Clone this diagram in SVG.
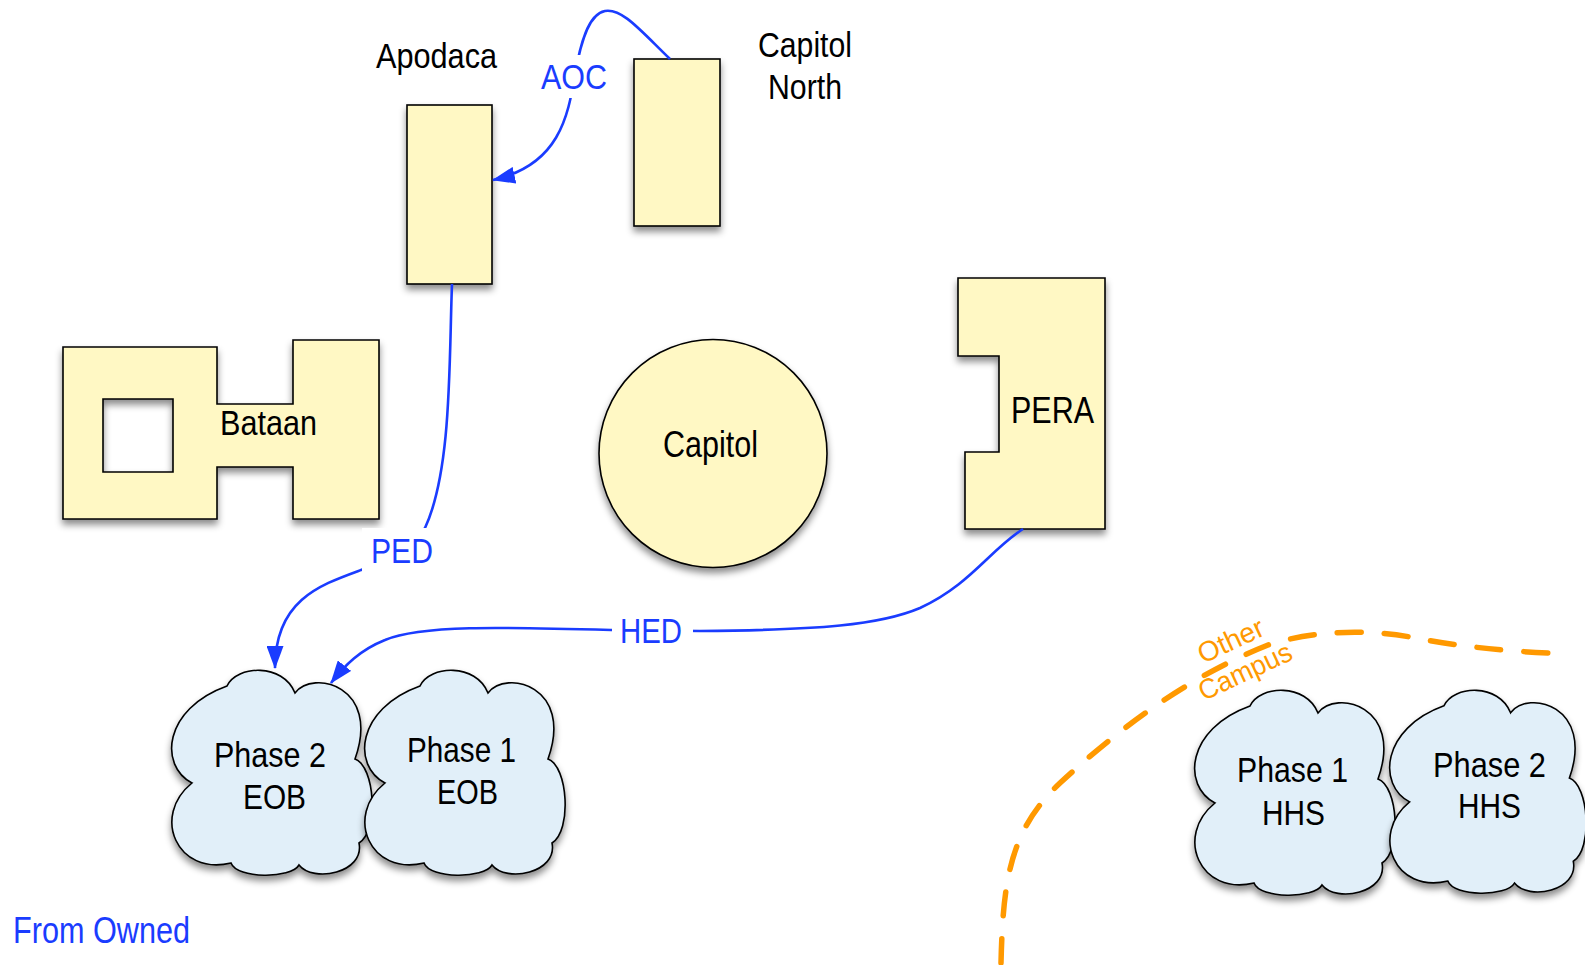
<svg xmlns="http://www.w3.org/2000/svg" xmlns:xlink="http://www.w3.org/1999/xlink" width="1585" height="965" viewBox="0 0 1585 965">
<style>
.bld{fill:#fff8c4;stroke:#000;stroke-width:1.6;filter:url(#sh)}
.cloud{fill:#e1eff9;stroke:#000;stroke-width:1.6;filter:url(#sh)}
.lbl{font-family:"Liberation Sans",Arial,sans-serif;font-size:35px;fill:#000}
.blue{fill:#1a3cff}
.conn{fill:none;stroke:#1a3cff;stroke-width:2.6}
.bg{fill:#fff}
.campus{fill:none;stroke:#ff9900;stroke-width:5.5;stroke-dasharray:24 23;stroke-linecap:round}
.orange{font-family:"Liberation Sans",Arial,sans-serif;font-size:28px;fill:#ff9900}
</style>
<defs>
<filter id="sh" x="-20%" y="-20%" width="140%" height="140%">
<feDropShadow dx="0" dy="5" stdDeviation="3.5" flood-color="#000" flood-opacity="0.45"/>
</filter>
<marker id="arr" viewBox="0 0 23 17" refX="22" refY="8.5" markerWidth="23" markerHeight="17" markerUnits="userSpaceOnUse" orient="auto">
<path d="M0,0 L23,8.5 L0,17 Z" fill="#1a3cff"/>
</marker>
<path id="cloudShape" d="M19,112 C-14,95 -10,38 54,15 C64,-6 110,-8 122,22 C140,-2 208,15 182,88 C202,95 206,160 186,172 C192,202 140,212 126,194 C118,208 64,208 58,192 C4,205 -22,145 19,112 Z"/>
</defs>

<g id="other-campus">
<path class="campus" d="M1001,963 C1003,880 1010,830 1060,783 C1110,737 1180,680 1268,645 C1320,628 1380,630 1420,639 C1460,646 1500,651 1550,653"/>
<g transform="translate(1249,680) rotate(-25)">
<text class="orange" x="0" y="-34" text-anchor="middle">Other</text>
<text class="orange" x="0" y="0" text-anchor="middle" textLength="100" lengthAdjust="spacingAndGlyphs">Campus</text>
</g>
</g>

<g id="apodaca">
<rect class="bld" x="407" y="105" width="85" height="179"/>
<text class="lbl" x="376" y="68" textLength="121" lengthAdjust="spacingAndGlyphs">Apodaca</text>
</g>

<g id="capitol-north">
<rect class="bld" x="634" y="59" width="86" height="167"/>
<text class="lbl" x="758" y="57" textLength="94" lengthAdjust="spacingAndGlyphs">Capitol</text>
<text class="lbl" x="768" y="99" textLength="74" lengthAdjust="spacingAndGlyphs">North</text>
</g>

<g id="bataan">
<path class="bld" fill-rule="evenodd" d="M63,347 H217 V404 H293 V340 H379 V519 H293 V467 H217 V519 H63 Z M103,399 H173 V472 H103 Z"/>
<text class="lbl" x="220" y="435" textLength="97" lengthAdjust="spacingAndGlyphs">Bataan</text>
</g>

<g id="capitol">
<circle class="bld" cx="713" cy="453.5" r="114"/>
<text class="lbl" x="663" y="457" style="font-size:36px" textLength="95" lengthAdjust="spacingAndGlyphs">Capitol</text>
</g>

<g id="pera">
<path class="bld" d="M958,278 H1105 V529 H965 V452 H999 V356 H958 Z"/>
<text class="lbl" x="1011" y="423" style="font-size:36px" textLength="83" lengthAdjust="spacingAndGlyphs">PERA</text>
</g>

<g id="phase2-eob">
<use xlink:href="#cloudShape" class="cloud" transform="translate(173,671)"/>
<text class="lbl" x="214" y="767" textLength="112" lengthAdjust="spacingAndGlyphs">Phase 2</text>
<text class="lbl" x="243" y="809" textLength="63" lengthAdjust="spacingAndGlyphs">EOB</text>
</g>

<g id="phase1-eob">
<use xlink:href="#cloudShape" class="cloud" transform="translate(366,671)"/>
<text class="lbl" x="407" y="762" textLength="109" lengthAdjust="spacingAndGlyphs">Phase 1</text>
<text class="lbl" x="437" y="804" textLength="61" lengthAdjust="spacingAndGlyphs">EOB</text>
</g>

<g id="phase1-hhs">
<use xlink:href="#cloudShape" class="cloud" transform="translate(1196,691)"/>
<text class="lbl" x="1237" y="782" textLength="111" lengthAdjust="spacingAndGlyphs">Phase 1</text>
<text class="lbl" x="1262" y="825" textLength="63" lengthAdjust="spacingAndGlyphs">HHS</text>
</g>

<g id="phase2-hhs">
<use xlink:href="#cloudShape" class="cloud" transform="translate(1391,691) scale(0.98,0.99)"/>
<text class="lbl" x="1433" y="777" textLength="113" lengthAdjust="spacingAndGlyphs">Phase 2</text>
<text class="lbl" x="1458" y="818" textLength="63" lengthAdjust="spacingAndGlyphs">HHS</text>
</g>

<g id="connectors">
<path class="conn" marker-end="url(#arr)" d="M670,59 C640,30 622,8 605,11 C588,14 580,45 575,75 C568,115 560,165 493,180"/>
<rect class="bg" x="538" y="55" width="72" height="43"/>
<text class="lbl blue" x="541" y="89" textLength="66" lengthAdjust="spacingAndGlyphs">AOC</text>

<path class="conn" marker-end="url(#arr)" d="M452,284 C449,360 452,470 425,528 C410,555 390,560 361,570 C320,585 275,600 275,668"/>
<rect class="bg" x="362" y="528" width="75" height="43"/>
<text class="lbl blue" x="371" y="563" textLength="62" lengthAdjust="spacingAndGlyphs">PED</text>

<path class="conn" marker-end="url(#arr)" d="M1023,529 C990,550 970,585 920,608 C880,625 820,630 700,631 L611,630 C500,627 420,625 385,640 C360,650 345,665 331,683"/>
<rect class="bg" x="612" y="610" width="81" height="40"/>
<text class="lbl blue" x="620" y="643" textLength="62" lengthAdjust="spacingAndGlyphs">HED</text>
</g>

<text class="lbl blue" x="13" y="943" style="font-size:37px" textLength="177" lengthAdjust="spacingAndGlyphs">From Owned</text>
</svg>
